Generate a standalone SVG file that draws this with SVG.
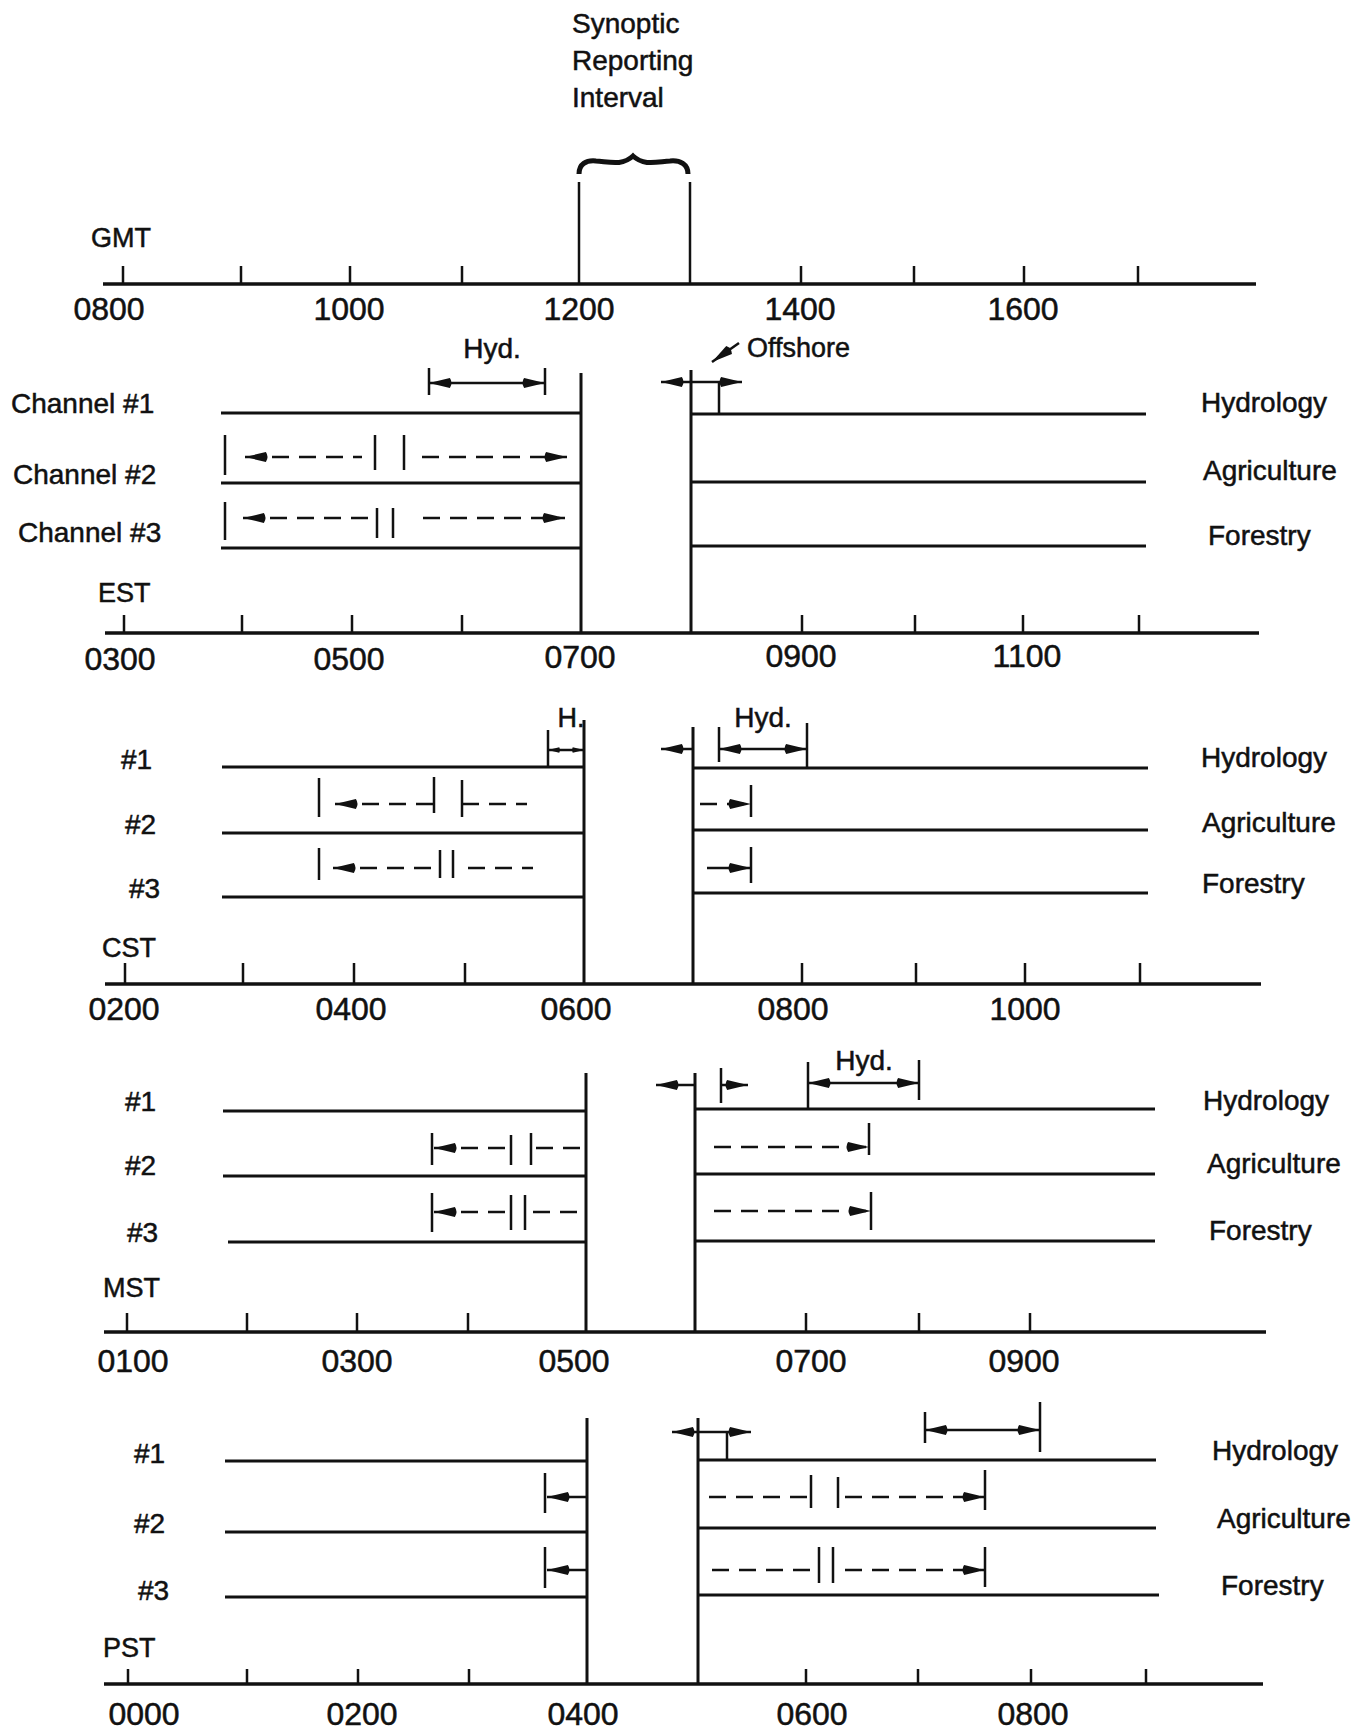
<svg xmlns="http://www.w3.org/2000/svg" width="1364" height="1734" viewBox="0 0 1364 1734">
<style>
  text { font-family: "Liberation Sans", Arial, sans-serif; fill: #111; stroke: #111; stroke-width: 0.5; }
  .lbl { font-size: 28px; }
  .num { font-size: 32px; text-anchor: middle; }
  .sm { font-size: 27px; }
  .ax { stroke: #111; stroke-width: 3.5; fill: none; }
  .ln { stroke: #111; stroke-width: 3; fill: none; }
  .tk { stroke: #111; stroke-width: 2.5; fill: none; }
  .ar { stroke: #111; stroke-width: 2.5; fill: none; marker-end: url(#ah); }
  .dbl { stroke: #111; stroke-width: 2.5; fill: none; marker-start: url(#ah); marker-end: url(#ah); }
  .ds { stroke: #111; stroke-width: 2.5; fill: none; stroke-dasharray: 17 10; }
</style>
<defs>
  <marker id="ah" viewBox="0 0 22 10" refX="22" refY="5" markerWidth="25" markerHeight="11" markerUnits="userSpaceOnUse" orient="auto-start-reverse">
    <path d="M22,5 L3,0.5 Q0,5 3,9.5 Z" fill="#111"/>
  </marker>
  <marker id="ahs" viewBox="0 0 22 10" refX="22" refY="5" markerWidth="13" markerHeight="7" markerUnits="userSpaceOnUse" orient="auto-start-reverse">
    <path d="M22,5 L3,0.5 Q0,5 3,9.5 Z" fill="#111"/>
  </marker>
</defs>
<rect width="1364" height="1734" fill="#fff"/>

<!-- GMT -->
<g id="gmt">
  <text class="lbl" x="572" y="33">Synoptic</text>
  <text class="lbl" x="572" y="70">Reporting</text>
  <text class="lbl" x="572" y="107">Interval</text>
  <path d="M579,174 C579,164 586,160 596,161 C610,162 622,166 633,156 C644,166 656,162 670,161 C680,160 688,164 688,174" stroke="#111" stroke-width="5" fill="none"/>
  <text class="sm" x="91" y="247">GMT</text>
  <line class="ax" x1="103" y1="284" x2="1256" y2="284"/>
  <path class="tk" d="M123,266V284M241,266V284M350,266V284M462,266V284M801,266V284M914,266V284M1024,266V284M1138,266V284"/>
  <line class="tk" x1="579" y1="182" x2="579" y2="284"/>
  <line class="tk" x1="690" y1="182" x2="690" y2="284"/>
  <text class="num" x="109" y="320">0800</text>
  <text class="num" x="349" y="320">1000</text>
  <text class="num" x="579" y="320">1200</text>
  <text class="num" x="800" y="320">1400</text>
  <text class="num" x="1023" y="320">1600</text>
</g>

<!-- EST -->
<g id="est">
  <text class="lbl" x="11" y="413">Channel #1</text>
  <text class="lbl" x="13" y="484">Channel #2</text>
  <text class="lbl" x="18" y="542">Channel #3</text>
  <text class="lbl" x="492" y="358" text-anchor="middle">Hyd.</text>
  <text class="sm" x="747" y="357">Offshore</text>
  <text class="lbl" x="1201" y="412">Hydrology</text>
  <text class="lbl" x="1203" y="480">Agriculture</text>
  <text class="lbl" x="1208" y="545">Forestry</text>
  <text class="sm" x="98" y="602">EST</text>
  <line class="ln" x1="581" y1="373" x2="581" y2="633"/>
  <line class="ln" x1="691" y1="370" x2="691" y2="633"/>
  <path class="ln" d="M221,413H581M221,483H581M221,548H581M691,414H1146M691,482H1146M691,546H1146"/>
  <line class="ax" x1="105" y1="633" x2="1259" y2="633"/>
  <path class="tk" d="M124,615V633M242,615V633M352,615V633M462,615V633M802,615V633M915,615V633M1023,615V633M1139,615V633"/>
  <text class="num" x="120" y="670">0300</text>
  <text class="num" x="349" y="670">0500</text>
  <text class="num" x="580" y="668">0700</text>
  <text class="num" x="801" y="667">0900</text>
  <text class="num" x="1027" y="667">1100</text>
</g>

<!-- CST -->
<g id="cst">
  <text class="lbl" x="121" y="769">#1</text>
  <text class="lbl" x="125" y="834">#2</text>
  <text class="lbl" x="129" y="898">#3</text>
  <text class="sm" x="571" y="727" text-anchor="middle">H.</text>
  <text class="lbl" x="763" y="727" text-anchor="middle">Hyd.</text>
  <text class="lbl" x="1201" y="767">Hydrology</text>
  <text class="lbl" x="1202" y="832">Agriculture</text>
  <text class="lbl" x="1202" y="893">Forestry</text>
  <text class="sm" x="102" y="957">CST</text>
  <line class="ln" x1="584" y1="720" x2="584" y2="984"/>
  <line class="ln" x1="693" y1="727" x2="693" y2="984"/>
  <path class="ln" d="M222,767H584M222,833H584M222,897H584M693,768H1148M693,830H1148M693,893H1148"/>
  <line class="ax" x1="105" y1="984" x2="1261" y2="984"/>
  <path class="tk" d="M125,963V984M243,963V984M354,963V984M465,963V984M802,963V984M916,963V984M1025,963V984M1140,963V984"/>
  <text class="num" x="124" y="1020">0200</text>
  <text class="num" x="351" y="1020">0400</text>
  <text class="num" x="576" y="1020">0600</text>
  <text class="num" x="793" y="1020">0800</text>
  <text class="num" x="1025" y="1020">1000</text>
</g>

<!-- MST -->
<g id="mst">
  <text class="lbl" x="125" y="1111">#1</text>
  <text class="lbl" x="125" y="1175">#2</text>
  <text class="lbl" x="127" y="1242">#3</text>
  <text class="lbl" x="864" y="1070" text-anchor="middle">Hyd.</text>
  <text class="lbl" x="1203" y="1110">Hydrology</text>
  <text class="lbl" x="1207" y="1173">Agriculture</text>
  <text class="lbl" x="1209" y="1240">Forestry</text>
  <text class="sm" x="103" y="1297">MST</text>
  <line class="ln" x1="586" y1="1073" x2="586" y2="1332"/>
  <line class="ln" x1="695" y1="1073" x2="695" y2="1332"/>
  <path class="ln" d="M223,1111H586M223,1176H586M228,1242H586M695,1109H1155M695,1174H1155M695,1241H1155"/>
  <line class="ax" x1="104" y1="1332" x2="1266" y2="1332"/>
  <path class="tk" d="M127,1313V1332M247,1313V1332M357,1313V1332M468,1313V1332M806,1313V1332M919,1313V1332M1030,1313V1332"/>
  <text class="num" x="133" y="1372">0100</text>
  <text class="num" x="357" y="1372">0300</text>
  <text class="num" x="574" y="1372">0500</text>
  <text class="num" x="811" y="1372">0700</text>
  <text class="num" x="1024" y="1372">0900</text>
</g>

<!-- PST -->
<g id="pst">
  <text class="lbl" x="134" y="1463">#1</text>
  <text class="lbl" x="134" y="1533">#2</text>
  <text class="lbl" x="138" y="1600">#3</text>
  <text class="lbl" x="1212" y="1460">Hydrology</text>
  <text class="lbl" x="1217" y="1528">Agriculture</text>
  <text class="lbl" x="1221" y="1595">Forestry</text>
  <text class="sm" x="103" y="1657">PST</text>
  <line class="ln" x1="587" y1="1418" x2="587" y2="1684"/>
  <line class="ln" x1="698" y1="1418" x2="698" y2="1684"/>
  <path class="ln" d="M225,1461H587M225,1532H587M225,1597H587M698,1460H1156M698,1528H1156M698,1595H1159"/>
  <line class="ax" x1="104" y1="1684" x2="1263" y2="1684"/>
  <path class="tk" d="M128,1669V1684M247,1669V1684M358,1669V1684M469,1669V1684M806,1669V1684M918,1669V1684M1031,1669V1684M1146,1669V1684"/>
  <text class="num" x="144" y="1725">0000</text>
  <text class="num" x="362" y="1725">0200</text>
  <text class="num" x="583" y="1725">0400</text>
  <text class="num" x="812" y="1725">0600</text>
  <text class="num" x="1033" y="1725">0800</text>
</g>

<!-- connectors: brackets, interval arrows, ticks -->
<g id="connectors">
  <!-- EST -->
  <path class="tk" d="M429,368V395M545,368V395"/>
  <line class="dbl" x1="429" y1="383" x2="545" y2="383"/>
  <line class="ar" x1="739" y1="343" x2="712" y2="362"/>
  <line class="tk" x1="691" y1="382" x2="719" y2="382"/>
  <line class="ar" x1="691" y1="382" x2="661" y2="382"/>
  <line class="ar" x1="719" y1="382" x2="742" y2="382"/>
  <line class="tk" x1="719" y1="382" x2="719" y2="413"/>
  <path class="tk" d="M225,435V475M375,435V470M404,435V470"/>
  <line class="ds" x1="245" y1="457" x2="362" y2="457" style="marker-start:url(#ah)"/>
  <line class="ds" x1="422" y1="457" x2="567" y2="457" style="marker-end:url(#ah)"/>
  <path class="tk" d="M225,502V540M377,508V538M393,508V538"/>
  <line class="ds" x1="243" y1="518" x2="368" y2="518" style="marker-start:url(#ah)"/>
  <line class="ds" x1="423" y1="518" x2="565" y2="518" style="marker-end:url(#ah)"/>

  <!-- CST -->
  <line class="tk" x1="548" y1="730" x2="548" y2="768"/>
  <line x1="548" y1="750" x2="584" y2="750" stroke="#111" stroke-width="2.5" marker-start="url(#ahs)" marker-end="url(#ahs)"/>
  <line class="ar" x1="693" y1="749" x2="661" y2="749"/>
  <line class="tk" x1="719" y1="727" x2="719" y2="762"/>
  <line class="tk" x1="807" y1="723" x2="807" y2="768"/>
  <line class="dbl" x1="719" y1="749" x2="807" y2="749"/>
  <path class="tk" d="M319,778V817M434,777V813M462,780V817"/>
  <line class="ds" x1="335" y1="804" x2="434" y2="804" style="marker-start:url(#ah)"/>
  <line class="ds" x1="462" y1="804" x2="527" y2="804"/>
  <path class="tk" d="M319,848V880M440,850V878M453,850V878"/>
  <line class="ds" x1="333" y1="868" x2="440" y2="868" style="marker-start:url(#ah)"/>
  <line class="ds" x1="468" y1="868" x2="533" y2="868"/>
  <line class="tk" x1="751" y1="785" x2="751" y2="817"/>
  <line class="ds" x1="700" y1="804" x2="751" y2="804" style="marker-end:url(#ah)"/>
  <line class="tk" x1="751" y1="847" x2="751" y2="883"/>
  <line class="ar" x1="707" y1="868" x2="751" y2="868"/>

  <!-- MST -->
  <line class="ar" x1="695" y1="1085" x2="656" y2="1085"/>
  <line class="tk" x1="721" y1="1068" x2="721" y2="1103"/>
  <line class="ar" x1="721" y1="1085" x2="748" y2="1085"/>
  <path class="tk" d="M808,1062V1110M919,1060V1100"/>
  <line class="dbl" x1="808" y1="1083" x2="919" y2="1083"/>
  <path class="tk" d="M432,1133V1165M511,1135V1165M531,1133V1165"/>
  <line class="ds" x1="434" y1="1148" x2="511" y2="1148" style="marker-start:url(#ah)"/>
  <line class="ds" x1="536" y1="1148" x2="580" y2="1148"/>
  <path class="tk" d="M432,1193V1232M511,1195V1230M525,1195V1230"/>
  <line class="ds" x1="434" y1="1212" x2="511" y2="1212" style="marker-start:url(#ah)"/>
  <line class="ds" x1="533" y1="1212" x2="580" y2="1212"/>
  <line class="tk" x1="869" y1="1123" x2="869" y2="1155"/>
  <line class="ds" x1="714" y1="1147" x2="869" y2="1147" style="marker-end:url(#ah)"/>
  <line class="tk" x1="871" y1="1192" x2="871" y2="1230"/>
  <line class="ds" x1="714" y1="1211" x2="871" y2="1211" style="marker-end:url(#ah)"/>

  <!-- PST -->
  <line class="tk" x1="698" y1="1432" x2="727" y2="1432"/>
  <line class="ar" x1="698" y1="1432" x2="672" y2="1432"/>
  <line class="ar" x1="727" y1="1432" x2="751" y2="1432"/>
  <line class="tk" x1="727" y1="1432" x2="727" y2="1460"/>
  <path class="tk" d="M925,1412V1443M1040,1402V1452"/>
  <line class="dbl" x1="925" y1="1430" x2="1040" y2="1430"/>
  <line class="tk" x1="545" y1="1473" x2="545" y2="1513"/>
  <line class="ar" x1="587" y1="1497" x2="547" y2="1497"/>
  <line class="tk" x1="545" y1="1547" x2="545" y2="1588"/>
  <line class="ar" x1="587" y1="1570" x2="547" y2="1570"/>
  <path class="tk" d="M811,1475V1508M838,1477V1508M985,1470V1510"/>
  <line class="ds" x1="709" y1="1497" x2="811" y2="1497"/>
  <line class="ds" x1="845" y1="1497" x2="985" y2="1497" style="marker-end:url(#ah)"/>
  <path class="tk" d="M819,1547V1583M833,1547V1583M985,1547V1587"/>
  <line class="ds" x1="712" y1="1570" x2="813" y2="1570"/>
  <line class="ds" x1="845" y1="1570" x2="985" y2="1570" style="marker-end:url(#ah)"/>
</g>
</svg>
